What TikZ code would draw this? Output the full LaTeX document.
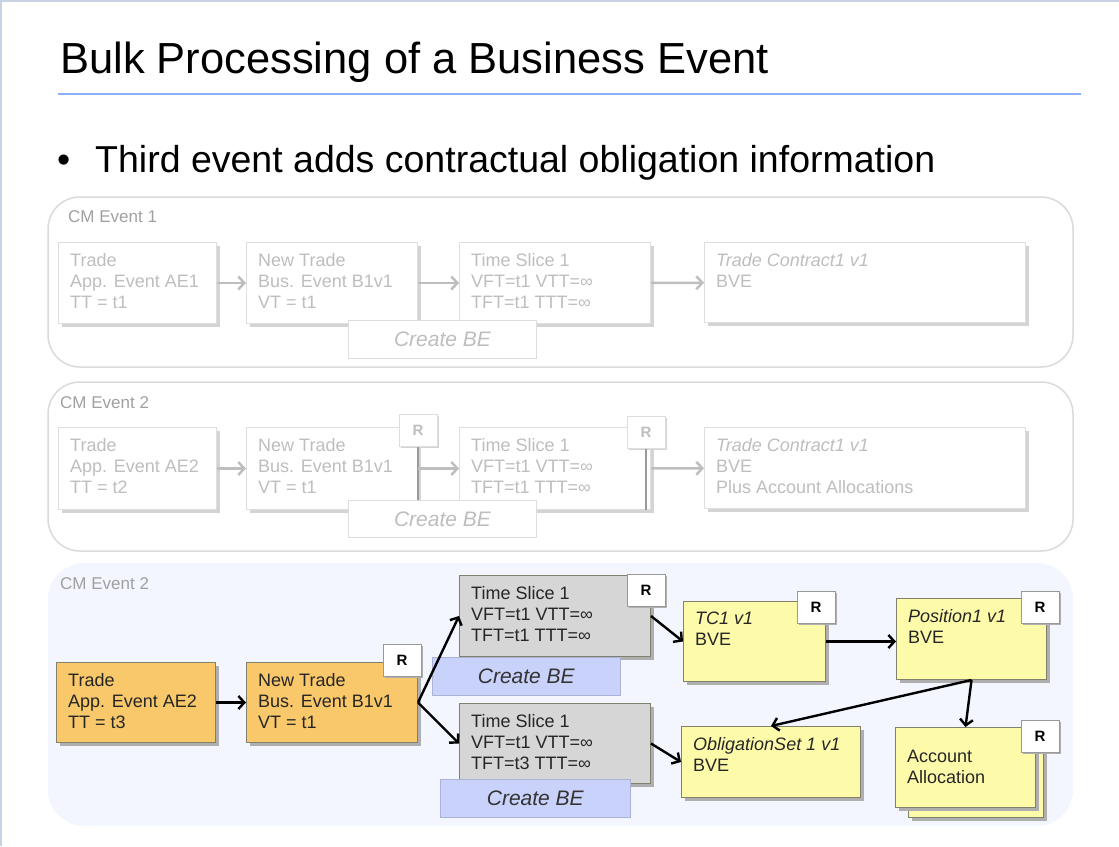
\documentclass[tikz,border=0pt]{standalone}
\usepackage{fontspec}
\setmainfont{Liberation Sans}
\usetikzlibrary{arrows.meta, shadows, positioning}
\definecolor{color_edge}{RGB}{200,210,228}
\definecolor{color_rule}{RGB}{140,176,245}
\definecolor{color_panel}{RGB}{218,218,218}
\definecolor{color_back}{RGB}{243,246,254}
\definecolor{color_pale}{RGB}{190,190,190}
\definecolor{color_label}{RGB}{160,160,160}
\definecolor{color_fline}{RGB}{222,222,222}
\definecolor{color_fshad}{RGB}{212,212,212}
\definecolor{color_oran}{RGB}{249,200,106}
\definecolor{color_yell}{RGB}{253,251,170}
\definecolor{color_grey}{RGB}{214,214,214}
\definecolor{color_blue}{RGB}{201,210,250}
\definecolor{color_line}{RGB}{128,128,110}
\definecolor{color_shad}{RGB}{175,175,175}

\begin{document}
\begin{tikzpicture}[x=1pt,y=-1pt,
  panel/.style={draw=color_panel, line width=1.5pt, rounded corners=32pt},
  panellabel/.style={anchor=base west, inner sep=0, text=color_label,
    font=\fontsize{17}{20}\selectfont},
  fbox/.style={anchor=north west, draw=color_fline, fill=white, line width=1pt,
    drop shadow={shadow xshift=3pt, shadow yshift=-3pt, fill=color_fshad, opacity=1}},
  box/.style={anchor=north west, draw=color_line, line width=1pt,
    drop shadow={shadow xshift=3pt, shadow yshift=-3pt, fill=color_shad, opacity=1}},
  ftext/.style={anchor=north west, align=left, inner xsep=12pt, inner ysep=11pt,
    text=color_pale, font=\fontsize{18}{21}\selectfont},
  btext/.style={ftext, text=black!85},
  fbe/.style={anchor=north west, draw=color_fline, fill=white, line width=1pt,
    text=color_pale, font=\fontsize{21}{24}\selectfont\itshape},
  be/.style={anchor=north west, fill=color_blue, draw=color_blue!85!black, line width=0.6pt,
    text=black!80, font=\fontsize{21}{24}\selectfont\itshape},
  rbox/.style={draw=black!40, fill=white, line width=1pt, minimum width=38pt,
    minimum height=32pt, inner sep=0, font=\fontsize{15}{17}\selectfont\bfseries,
    drop shadow={shadow xshift=2pt, shadow yshift=-2pt, fill=color_shad, opacity=1}},
  frbox/.style={rbox, draw=color_fline, text=color_pale,
    drop shadow={shadow xshift=2pt, shadow yshift=-2pt, fill=color_fshad, opacity=1}},
  farrow/.style={draw=color_pale, line width=2.5pt, -{Straight Barb[length=6pt,width=13pt]}},
  arrow/.style={draw=black, line width=2.4pt, -{Straight Barb[length=6pt,width=13pt]}}]

  \useasboundingbox (0,0) rectangle (1119,846);
  \draw[color_edge, line width=1.5pt] (0,0.75) -- (1119,0.75) (0.75,0) -- (0.75,846);

  % TITLE
  \node[anchor=base west, inner sep=0, font=\fontsize{43.5}{50}\selectfont] (title)
    at (60,73) {Bulk Processing of a Business Event};
  \draw[color_rule, line width=2.5pt] (58,94) -- (1081,94);
  \node[anchor=base west, inner sep=0, font=\fontsize{37.5}{44}\selectfont] (bullet)
    at (57,172) {•};
  \node[anchor=base west, inner sep=0, font=\fontsize{37.5}{44}\selectfont] (point)
    at (95,172) {Third event adds contractual obligation information};

  %
  % CM EVENT 1
  \draw[panel] (48,197) rectangle (1073,367);
  \node[panellabel] (labA) at (68,222) {CM Event 1};
  \node[fbox, minimum width=158, minimum height=81] (trA) at (58,242) {};
  \node[ftext] (trA-t) at (trA.north west) {Trade\\App. Event AE1\\TT = t1};
  \node[fbox, minimum width=171, minimum height=81] (ntA) at (246,242) {};
  \node[ftext] (ntA-t) at (ntA.north west) {New Trade\\Bus. Event B1v1\\VT = t1};
  \node[fbox, minimum width=191, minimum height=81] (tsA) at (459,242) {};
  \node[ftext] (tsA-t) at (tsA.north west) {Time Slice 1\\VFT=t1 VTT=∞\\TFT=t1 TTT=∞};
  \node[fbox, minimum width=321, minimum height=80] (tcA) at (704,242) {};
  \node[ftext] (tcA-t) at (tcA.north west) {\textit{Trade Contract1 v1}\\BVE};
  \node[fbe, minimum width=188, minimum height=38] (beA) at (348,320) {Create BE};
  \draw[farrow] (trA) -- (ntA);
  \draw[farrow] (ntA) -- (tsA);
  \draw[farrow] (tsA) -- (tcA);

  %
  % CM EVENT 2
  \draw[panel] (48,382) rectangle (1073,551);
  \node[panellabel] (labB) at (60,408) {CM Event 2};
  \node[fbox, minimum width=158, minimum height=82] (trB) at (58,427) {};
  \node[ftext] (trB-t) at (trB.north west) {Trade\\App. Event AE2\\TT = t2};
  \node[fbox, minimum width=171, minimum height=82] (ntB) at (246,427) {};
  \node[ftext] (ntB-t) at (ntB.north west) {New Trade\\Bus. Event B1v1\\VT = t1};
  \node[fbox, minimum width=191, minimum height=82] (tsB) at (459,427) {};
  \node[ftext] (tsB-t) at (tsB.north west) {Time Slice 1\\VFT=t1 VTT=∞\\TFT=t1 TTT=∞};
  \node[fbox, minimum width=321, minimum height=81] (tcB) at (704,427) {};
  \node[ftext] (tcB-t) at (tcB.north west) {\textit{Trade Contract1 v1}\\BVE\\Plus Account Allocations};
  \node[frbox] (rB1) at (418,430) {R};
  \node[frbox] (rB2) at (646,432) {R};
  \draw[black!40, line width=1.5pt] (rB1.south) -- (rB1.south |- 0,500);
  \draw[black!40, line width=1.5pt] (rB2.south) -- (rB2.south |- tsB.south);
  \node[fbe, minimum width=188, minimum height=37] (beB) at (348,500) {Create BE};
  \draw[farrow] (trB) -- (ntB);
  \draw[farrow] (ntB) -- (tsB);
  \draw[farrow] (tsB) -- (tcB);

  %
  % CM EVENT 2 (THIRD)
  \fill[color_back, rounded corners=36pt] (48,563) rectangle (1073,826);
  \node[panellabel] (labC) at (60,589) {CM Event 2};
  \node[box, fill=color_oran, minimum width=159, minimum height=80] (trC) at (56,662) {};
  \node[btext] (trC-t) at (trC.north west) {Trade\\App. Event AE2\\TT = t3};
  \node[box, fill=color_oran, minimum width=171, minimum height=80] (ntC) at (246,662) {};
  \node[btext] (ntC-t) at (ntC.north west) {New Trade\\Bus. Event B1v1\\VT = t1};
  \node[rbox] (rC1) at (402,660) {R};
  % time slices
  \node[box, fill=color_grey, minimum width=191, minimum height=81] (tsC1) at (459,575) {};
  \node[btext] (tsC1-t) at (tsC1.north west) {Time Slice 1\\VFT=t1 VTT=∞\\TFT=t1 TTT=∞};
  \node[rbox] (rC2) at (646,590) {R};
  \node[be, minimum width=188, minimum height=38] (beC1) at (432,657) {Create BE};
  \node[box, fill=color_grey, minimum width=191, minimum height=80] (tsC2) at (459,703) {};
  \node[btext] (tsC2-t) at (tsC2.north west) {Time Slice 1\\VFT=t1 VTT=∞\\TFT=t3 TTT=∞};
  \node[be, minimum width=190, minimum height=38] (beC2) at (440,779) {Create BE};
  % business values
  \node[box, fill=color_yell, minimum width=142, minimum height=80] (tcC) at (683,601) {};
  \node[btext] (tcC-t) at (tcC.north west) {\textit{TC1 v1}\\BVE};
  \node[rbox] (rC3) at (816,607) {R};
  \node[box, fill=color_yell, minimum width=150, minimum height=81] (posC) at (896,598) {};
  \node[btext] (posC-t) at (posC.north west) {\textit{Position1 v1}\\BVE};
  \node[rbox] (rC4) at (1040,607) {R};
  \node[box, fill=color_yell, minimum width=179, minimum height=71] (oblC) at (681,726) {};
  \node[btext] (oblC-t) at (oblC.north west) {\textit{ObligationSet 1 v1}\\BVE};
  \node[box, fill=color_yell, minimum width=135, minimum height=80] (accC2) at (908,737) {};
  \node[box, fill=color_yell, minimum width=140, minimum height=80] (accC) at (895,727) {};
  \node[btext, inner ysep=23pt] (accC-t) at (accC.north west) {Account\\Allocation};
  \node[rbox] (rC5) at (1040,736) {R};
  % arrows
  \draw[arrow] (trC) -- (ntC);
  \draw[arrow] (ntC.east) -- (tsC1.west);
  \draw[arrow] (ntC.east) -- (tsC2.west);
  \draw[arrow] (tsC1.east) -- (tcC.west);
  \draw[arrow] (tsC2.east) -- (oblC.west);
  \draw[arrow] (tcC.east) -- (tcC.east -| posC.west);
  \draw[arrow] (posC.south) -- (oblC.north);
  \draw[arrow] (posC.south) -- (accC.north);

\end{tikzpicture}
\end{document}
